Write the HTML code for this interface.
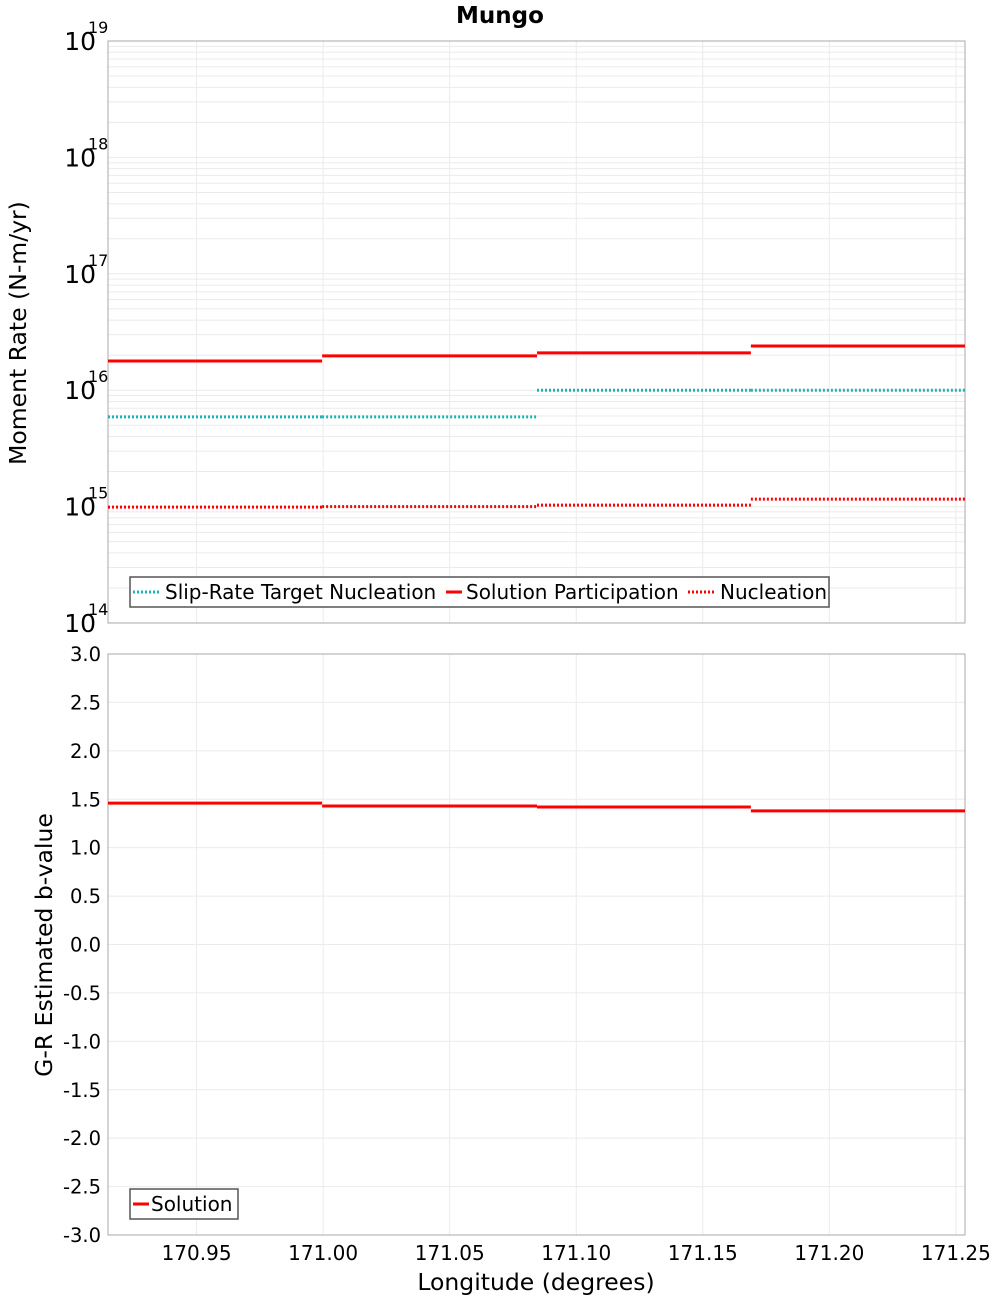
<!DOCTYPE html>
<html><head><meta charset="utf-8"><style>
body{margin:0;background:#fff;}
svg{display:block;font-family:"DejaVu Sans","Liberation Sans",sans-serif;}
</style></head><body>
<svg id="chart" width="1000" height="1300" xmlns="http://www.w3.org/2000/svg">
<rect width="1000" height="1300" fill="#fff"/>
<text x="500" y="23" text-anchor="middle" font-size="23" font-weight="bold">Mungo</text>
<g id="g1"></g><g id="g2"></g>
<text transform="translate(26,333) rotate(-90)" text-anchor="middle" font-size="23.5">Moment Rate (N-m/yr)</text>
<text transform="translate(52,945) rotate(-90)" text-anchor="middle" font-size="23.5">G-R Estimated b-value</text>
<text x="536" y="1290" text-anchor="middle" font-size="23.5">Longitude (degrees)</text>
</svg>
<script>
const segEdges=[170.915,170.9996,171.0845,171.169,171.2536];
const solutionParticipation=[1.78e16,1.97e16,2.09e16,2.40e16];
const slipTarget=[5.9e15,5.9e15,1.0e16,1.0e16];
const nucleation=[9.9e14,1.0e15,1.03e15,1.16e15];
const bValues=[1.46,1.43,1.42,1.38];
const xTicks=[170.95,171.00,171.05,171.10,171.15,171.20,171.25];
const logDecades=[14,15,16,17,18,19];
const bTicks=[-3,-2.5,-2,-1.5,-1,-0.5,0,0.5,1,1.5,2,2.5,3];

const NS='http://www.w3.org/2000/svg';
const L=108,R=965,T1=41,B1=623,T2=654,B2=1235;
const xMin=170.915,xMax=171.2536;
const X=v=>L+(v-xMin)/(xMax-xMin)*(R-L);
const Y1=v=>B1-(Math.log10(v)-14)/5*(B1-T1);
const Y2=v=>B2-(v+3)/6*(B2-T2);
function el(p,tag,a,name,txt){const e=document.createElementNS(NS,tag);for(const k in a)e.setAttribute(k,a[k]);


if(txt!==undefined)e.textContent=txt;p.appendChild(e);return e;}
const g1=document.getElementById('g1'),g2=document.getElementById('g2');
xTicks.forEach(t=>{const x=X(t);
el(g1,'line',{x1:x,x2:x,y1:T1,y2:B1,stroke:'#ebebeb'},'x-grid-line');
el(g2,'line',{x1:x,x2:x,y1:T2,y2:B2,stroke:'#ebebeb'},'x-grid-line');
el(g2,'text',{x:x,y:1260,'text-anchor':'middle','font-size':20},'x-tick-label',t.toFixed(2));});
for(let d=14;d<19;d++)for(let m=1;m<10;m++){const y=Y1(m*Math.pow(10,d));
el(g1,'line',{x1:L,x2:R,y1:y,y2:y,stroke:'#ebebeb'},'y-grid-line');}
logDecades.forEach(d=>{const y=Y1(Math.pow(10,d));
el(g1,'text',{x:96,y:y+9,'text-anchor':'end','font-size':25},'y-tick-label','10');
el(g1,'text',{x:88,y:y-8,'font-size':16},'y-tick-exponent',String(d));});
bTicks.forEach(v=>{const y=Y2(v);
el(g2,'line',{x1:L,x2:R,y1:y,y2:y,stroke:'#ebebeb'},'y-grid-line');
el(g2,'text',{x:101,y:y+7,'text-anchor':'end','font-size':19.5},'y-tick-label',v.toFixed(1));});
el(g1,'rect',{x:L,y:T1,width:R-L,height:B1-T1,fill:'none',stroke:'#aaa'},'top-plot-frame');
el(g2,'rect',{x:L,y:T2,width:R-L,height:B2-T2,fill:'none',stroke:'#aaa'},'bottom-plot-frame');
function steps(g,vals,Yf,color,dash,name){vals.forEach((v,i)=>{
const a={x1:X(segEdges[i]),x2:X(segEdges[i+1]),y1:Yf(v),y2:Yf(v),stroke:color,'stroke-width':3};
if(dash)a['stroke-dasharray']='2,2';el(g,'line',a,name+'-'+(i+1));});}
steps(g1,slipTarget,Y1,'#1ab5b5',true,'slip-rate-target');
steps(g1,solutionParticipation,Y1,'#ff0000',false,'solution-participation');
steps(g1,nucleation,Y1,'#ff0000',true,'nucleation');
steps(g2,bValues,Y2,'#ff0000',false,'b-value');
const lg=el(g1,'g',{},'legend');
el(lg,'rect',{x:130,y:577,width:699,height:30,fill:'#fff',stroke:'#555','stroke-width':1.5},'legend-box');
const items=[['Slip-Rate Target Nucleation','#1ab5b5',true,133,28],['Solution Participation','#ff0000',false,446,16],['Nucleation','#ff0000',true,688,28]];
items.forEach(([t,c,d,x,w])=>{const a={x1:x,x2:x+w,y1:592,y2:592,stroke:c,'stroke-width':3};if(d)a['stroke-dasharray']='2,2';
el(lg,'line',a,'legend-swatch');el(lg,'text',{x:x+w+4,y:599,'font-size':20},'legend-entry',t);});
const lg2=el(g2,'g',{},'legend');
el(lg2,'rect',{x:130,y:1189,width:108,height:30,fill:'#fff',stroke:'#555','stroke-width':1.5},'legend-box');
el(lg2,'line',{x1:133,x2:149,y1:1204,y2:1204,stroke:'#ff0000','stroke-width':3},'legend-swatch');
el(lg2,'text',{x:151,y:1211,'font-size':20},'legend-entry','Solution');
</script>
</body></html>
